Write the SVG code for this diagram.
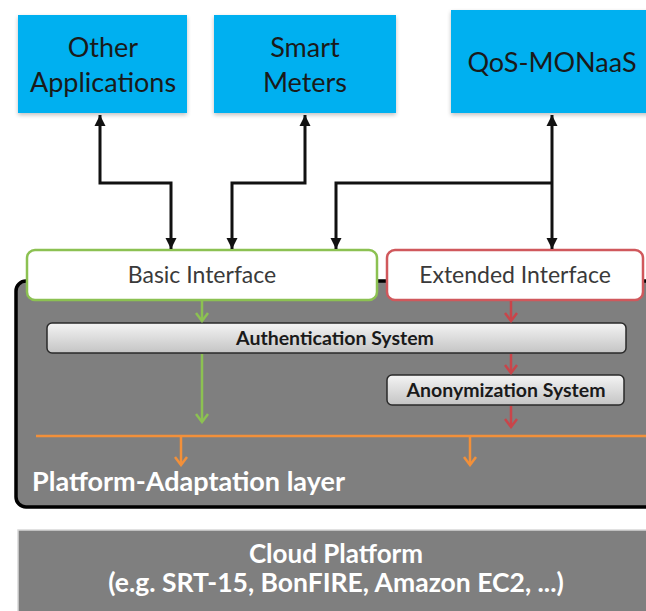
<svg xmlns="http://www.w3.org/2000/svg" width="646" height="611" viewBox="0 0 646 611">
<style>
.top{fill:#00b0f0;}
.tt{font-family:Lato,"Liberation Sans",sans-serif;font-size:27px;fill:#1a1a1a;text-anchor:middle;}
.it{font-family:Lato,"Liberation Sans",sans-serif;font-size:23px;fill:#3a3a3a;text-anchor:middle;}
.bt{font-family:Lato,"Liberation Sans",sans-serif;font-size:19.5px;font-weight:bold;fill:#1a1a1a;text-anchor:middle;}
.wt{font-family:Lato,"Liberation Sans",sans-serif;font-weight:bold;fill:#ffffff;}
.blk{fill:none;stroke:#111;stroke-width:3;}
.grn{fill:none;stroke:#8cc152;stroke-width:2.5;}
.red{fill:none;stroke:#c9454a;stroke-width:2.5;}
.org{fill:none;stroke:#f2903a;stroke-width:2.5;}
</style>
<defs>
<marker id="ab" markerUnits="userSpaceOnUse" markerWidth="14" markerHeight="14" viewBox="-12 -7 14 14" refX="0" refY="0" orient="auto-start-reverse">
<path d="M-11,-5.5 L0,0 L-11,5.5 Z" fill="#111"/>
</marker>
<marker id="ag" markerUnits="userSpaceOnUse" markerWidth="14" markerHeight="14" viewBox="-12 -7 14 14" refX="0" refY="0" orient="auto">
<path d="M-8,-6 L0,0 L-8,6" fill="none" stroke="#8cc152" stroke-width="2.5"/>
</marker>
<marker id="ar" markerUnits="userSpaceOnUse" markerWidth="14" markerHeight="14" viewBox="-12 -7 14 14" refX="0" refY="0" orient="auto">
<path d="M-8,-6 L0,0 L-8,6" fill="none" stroke="#c9454a" stroke-width="2.5"/>
</marker>
<marker id="ao" markerUnits="userSpaceOnUse" markerWidth="14" markerHeight="14" viewBox="-12 -7 14 14" refX="0" refY="0" orient="auto">
<path d="M-8,-6 L0,0 L-8,6" fill="none" stroke="#f2903a" stroke-width="2.5"/>
</marker>
<linearGradient id="bar" x1="0" y1="0" x2="0" y2="1">
<stop offset="0" stop-color="#f4f4f4"/>
<stop offset="1" stop-color="#c4c4c4"/>
</linearGradient>
<filter id="sh" x="-10%" y="-10%" width="120%" height="125%">
<feGaussianBlur in="SourceAlpha" stdDeviation="2"/>
<feOffset dx="0" dy="2"/>
<feComponentTransfer><feFuncA type="linear" slope="0.25"/></feComponentTransfer>
<feMerge><feMergeNode/><feMergeNode in="SourceGraphic"/></feMerge>
</filter>
</defs>
<rect width="646" height="611" fill="#ffffff"/>

<g id="other-applications">
<rect class="top" x="18" y="15" width="169" height="98" filter="url(#sh)"/>
<text class="tt" x="103" y="57">Other</text>
<text class="tt" x="103" y="92">Applications</text>
</g>
<g id="smart-meters">
<rect class="top" x="214" y="15" width="182" height="98" filter="url(#sh)"/>
<text class="tt" x="305" y="57">Smart</text>
<text class="tt" x="305" y="92">Meters</text>
</g>
<g id="qos-monaas">
<rect class="top" x="451" y="10" width="210" height="103" filter="url(#sh)"/>
<text class="tt" x="552" y="72">QoS-MONaaS</text>
</g>

<g id="platform-adaptation-layer">
<rect x="16" y="281" width="650" height="226" rx="10" fill="#7f7f7f" stroke="#000" stroke-width="3.5"/>
<text class="wt" x="32" y="491" font-size="27">Platform-Adaptation layer</text>
</g>

<g id="basic-interface">
<rect x="27" y="250" width="350" height="50" rx="8" fill="#ffffff" stroke="#8cc152" stroke-width="2.5"/>
<text class="it" x="202" y="283">Basic Interface</text>
</g>
<g id="extended-interface">
<rect x="387" y="250" width="256" height="50" rx="8" fill="#ffffff" stroke="#d0585c" stroke-width="2.5"/>
<text class="it" x="515" y="283">Extended Interface</text>
</g>

<g id="authentication-system">
<rect x="47" y="323" width="579" height="30" rx="5" fill="url(#bar)" stroke="#2a2a2a" stroke-width="1.5"/>
<text class="bt" x="335" y="345">Authentication System</text>
</g>
<g id="anonymization-system">
<rect x="387" y="375" width="237" height="30" rx="5" fill="url(#bar)" stroke="#2a2a2a" stroke-width="1.5"/>
<text class="bt" x="506" y="397">Anonymization System</text>
</g>

<g id="cloud-platform">
<rect x="18" y="530" width="640" height="90" fill="#7f7f7f" stroke="#d8d8d8" stroke-width="1.5"/>
<text class="wt" x="336" y="563" font-size="26" text-anchor="middle">Cloud Platform</text>
<text class="wt" x="336" y="592" font-size="26.5" text-anchor="middle">(e.g. SRT-15, BonFIRE, Amazon EC2, ...)</text>
</g>

<g id="connectors">
<path class="blk" d="M100,115 V183 H171 V249" marker-start="url(#ab)" marker-end="url(#ab)"/>
<path class="blk" d="M305,115 V183 H232 V249" marker-start="url(#ab)" marker-end="url(#ab)"/>
<path class="blk" d="M552,115 V249" marker-start="url(#ab)" marker-end="url(#ab)"/>
<path class="blk" d="M552,183 H336 V249" marker-end="url(#ab)"/>
<path class="grn" d="M202,301 V321" marker-end="url(#ag)"/>
<path class="grn" d="M202,354 V422" marker-end="url(#ag)"/>
<path class="red" d="M511,301 V321" marker-end="url(#ar)"/>
<path class="red" d="M511,354 V373" marker-end="url(#ar)"/>
<path class="red" d="M511,406 V427" marker-end="url(#ar)"/>
<path class="org" d="M36,436 H646"/>
<path class="org" d="M181,436 V465" marker-end="url(#ao)"/>
<path class="org" d="M470,436 V465" marker-end="url(#ao)"/>
</g>
</svg>
